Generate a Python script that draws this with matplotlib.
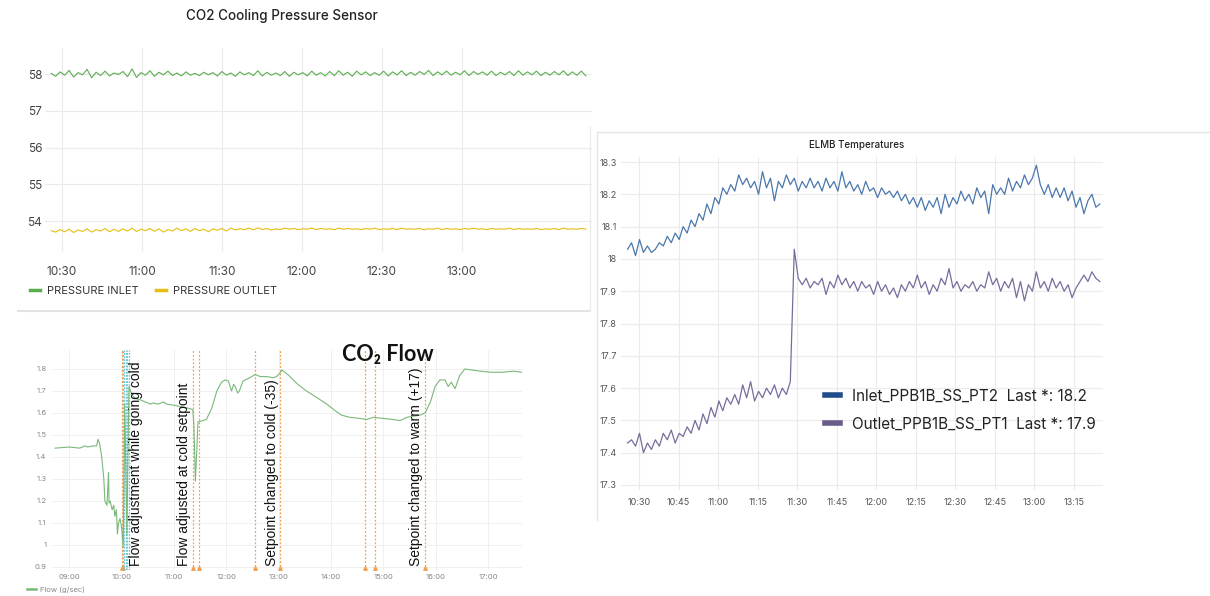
import matplotlib.pyplot as plt
import numpy as np
from matplotlib.lines import Line2D

plt.rcParams['font.family'] = ['Inter', 'DejaVu Sans']

W, H = 1210, 596

# ---- CO2 cooling pressure (minutes after 10:30) ----
pressure_t0, pressure_t1 = -4.1, 196.5
pressure_ticks = ["10:30", "11:00", "11:30", "12:00", "12:30", "13:00"]
pressure_yticks = [54, 55, 56, 57, 58]
inlet_pressure = [
    58.02, 57.94, 58.06, 57.97, 58.10, 57.92, 58.04, 57.98, 58.13, 57.90,
    58.05, 57.96, 58.08, 57.95, 58.03, 57.99, 58.07, 57.93, 58.14, 57.91,
    58.04, 57.97, 58.09, 57.94, 58.05, 57.98, 58.08, 57.96, 58.03, 57.95,
    58.06, 57.97, 58.02, 57.96, 58.05, 57.98, 58.04, 57.95, 58.07, 57.97,
    58.03, 57.94, 58.06, 57.98, 58.04, 57.96, 58.09, 57.95, 58.05, 57.97,
    58.03, 57.96, 58.07, 57.94, 58.05, 57.98, 58.04, 57.95, 58.08, 57.97,
    58.04, 57.95, 58.07, 57.96, 58.09, 57.97, 58.05, 57.94, 58.08, 57.98,
    58.06, 57.96, 58.04, 57.97, 58.08, 57.95, 58.06, 57.98, 58.09, 57.96,
    58.05, 57.97, 58.07, 57.99, 58.10, 57.96, 58.06, 57.98, 58.08, 57.97,
    58.05, 57.98, 58.09, 57.96, 58.07, 57.99, 58.06, 57.97, 58.08, 57.96,
    58.05, 57.98, 58.07, 57.96, 58.09, 57.97, 58.06, 57.98, 58.08, 57.96,
    58.05, 57.97, 58.07, 57.98, 58.09, 57.96, 58.06, 57.97, 58.08, 57.95,
]
outlet_pressure = [
    53.74, 53.70, 53.77, 53.71, 53.78, 53.69, 53.76, 53.72, 53.79, 53.70,
    53.77, 53.73, 53.80, 53.71, 53.78, 53.72, 53.79, 53.73, 53.81, 53.72,
    53.78, 53.74, 53.80, 53.72, 53.79, 53.70, 53.77, 53.73, 53.81, 53.74,
    53.79, 53.72, 53.80, 53.74, 53.78, 53.71, 53.79, 53.75, 53.80, 53.73,
    53.81, 53.76, 53.79, 53.77, 53.81, 53.76, 53.82, 53.77, 53.80, 53.76,
    53.79, 53.77, 53.81, 53.78, 53.80, 53.77, 53.79, 53.78, 53.81, 53.77,
    53.80, 53.78, 53.79, 53.77, 53.81, 53.78, 53.80, 53.78, 53.79, 53.77,
    53.80, 53.78, 53.81, 53.77, 53.79, 53.78, 53.80, 53.77, 53.81, 53.78,
    53.79, 53.78, 53.80, 53.77, 53.79, 53.78, 53.81, 53.77, 53.80, 53.78,
    53.79, 53.77, 53.80, 53.78, 53.81, 53.78, 53.79, 53.77, 53.80, 53.78,
    53.79, 53.78, 53.81, 53.77, 53.80, 53.78, 53.79, 53.78, 53.80, 53.77,
    53.79, 53.78, 53.80, 53.77, 53.81, 53.78, 53.79, 53.78, 53.80, 53.78,
]

# ---- CO2 flow (hours after 09:00) ----
flow_ticks = ["09:00", "10:00", "11:00", "12:00", "13:00", "14:00", "15:00", "16:00", "17:00"]
flow_yticks = [0.9, 1.0, 1.1, 1.2, 1.3, 1.4, 1.5, 1.6, 1.7, 1.8]
flow_hours = [
    -0.27, 0.0, 0.2, 0.3, 0.35, 0.45, 0.52, 0.55, 0.58, 0.62, 0.66, 0.68, 0.72, 0.75,
    0.76, 0.78, 0.82, 0.85, 0.87, 0.90, 0.92, 0.94, 0.97, 1.00, 1.03, 1.06, 1.10, 1.14,
    1.20, 1.27, 1.35, 1.45, 1.55, 1.60, 1.70, 1.80, 1.86, 2.00, 2.10, 2.20, 2.30, 2.36,
    2.38, 2.41, 2.44, 2.46, 2.55, 2.62, 2.72, 2.82, 2.91, 2.98, 3.04, 3.10, 3.14, 3.17,
    3.22, 3.25, 3.32, 3.45, 3.55, 3.65, 3.77, 3.90, 3.96, 4.02, 4.06, 4.12, 4.22, 4.34,
    4.53, 4.73, 4.92, 5.08, 5.20, 5.36, 5.55, 5.68, 5.81, 6.00, 6.19, 6.32, 6.45, 6.57,
    6.70, 6.80, 6.90, 6.99, 7.08, 7.18, 7.24, 7.30, 7.37, 7.46, 7.56, 7.69, 7.85, 8.04,
    8.29, 8.48, 8.64,
]
flow_values = [
    1.44, 1.445, 1.44, 1.45, 1.445, 1.45, 1.45, 1.48, 1.46, 1.40, 1.30, 1.20, 1.18, 1.33,
    1.19, 1.20, 1.16, 1.18, 1.13, 1.16, 1.05, 1.10, 1.12, 1.08, 0.99, 1.64, 1.05, 1.72,
    1.68, 1.665, 1.66, 1.65, 1.64, 1.645, 1.64, 1.65, 1.64, 1.635, 1.63, 1.625, 1.62, 1.615,
    1.55, 1.29, 1.45, 1.56, 1.565, 1.57, 1.62, 1.70, 1.74, 1.75, 1.745, 1.70, 1.73, 1.72,
    1.69, 1.70, 1.745, 1.76, 1.775, 1.765, 1.765, 1.76, 1.765, 1.78, 1.795, 1.785, 1.765, 1.735,
    1.70, 1.67, 1.64, 1.61, 1.59, 1.58, 1.575, 1.57, 1.58, 1.575, 1.57, 1.565, 1.58, 1.585,
    1.59, 1.60, 1.65, 1.72, 1.75, 1.75, 1.72, 1.74, 1.71, 1.77, 1.80, 1.795, 1.79, 1.785,
    1.785, 1.79, 1.785,
]
event_hours = [1.00, 1.02, 2.36, 2.48, 3.55, 4.03, 5.65, 5.84, 6.80]
region_hours = [1.05, 1.08, 1.11, 1.14]
note_hours = [1.27, 2.19, 3.87, 6.62]
note_texts = [
    "Flow adjustment while going cold",
    "Flow adjusted at cold setpoint",
    "Setpoint changed to cold (-35)",
    "Setpoint changed to warm (+17)",
]

# ---- ELMB temperatures (minutes after 10:30) ----
temp_t0, temp_t1 = -4.4, 174.8
temp_ticks = ["10:30", "10:45", "11:00", "11:15", "11:30", "11:45", "12:00",
              "12:15", "12:30", "12:45", "13:00", "13:15"]
temp_yticks = [17.3, 17.4, 17.5, 17.6, 17.7, 17.8, 17.9, 18.0, 18.1, 18.2, 18.3]
temp_ylabels = ["17.3", "17.4", "17.5", "17.6", "17.7", "17.8", "17.9", "18", "18.1", "18.2", "18.3"]
inlet_temp = [
    18.03, 18.05, 18.01, 18.06, 18.02, 18.04, 18.02, 18.03, 18.05, 18.04,
    18.07, 18.05, 18.08, 18.06, 18.10, 18.08, 18.12, 18.10, 18.14, 18.12,
    18.17, 18.14, 18.19, 18.17, 18.22, 18.20, 18.23, 18.21, 18.26, 18.23,
    18.25, 18.22, 18.24, 18.20, 18.27, 18.22, 18.25, 18.18, 18.24, 18.22,
    18.26, 18.23, 18.25, 18.21, 18.24, 18.22, 18.25, 18.22, 18.24, 18.21,
    18.25, 18.22, 18.24, 18.21, 18.27, 18.22, 18.24, 18.21, 18.23, 18.20,
    18.24, 18.21, 18.22, 18.19, 18.22, 18.20, 18.21, 18.19, 18.21, 18.18,
    18.20, 18.17, 18.19, 18.16, 18.19, 18.15, 18.18, 18.16, 18.19, 18.14,
    18.20, 18.16, 18.19, 18.17, 18.21, 18.18, 18.20, 18.17, 18.22, 18.19,
    18.21, 18.14, 18.23, 18.20, 18.22, 18.20, 18.25, 18.21, 18.24, 18.22,
    18.26, 18.23, 18.25, 18.29, 18.23, 18.20, 18.23, 18.19, 18.22, 18.19,
    18.22, 18.18, 18.21, 18.16, 18.19, 18.14, 18.18, 18.20, 18.16, 18.17,
]
outlet_temp = [
    17.43, 17.44, 17.42, 17.46, 17.40, 17.43, 17.41, 17.44, 17.42, 17.46,
    17.44, 17.47, 17.43, 17.46, 17.45, 17.48, 17.46, 17.50, 17.47, 17.52,
    17.49, 17.54, 17.51, 17.56, 17.53, 17.57, 17.55, 17.58, 17.55, 17.61,
    17.57, 17.62, 17.56, 17.59, 17.57, 17.60, 17.58, 17.61, 17.57, 17.60,
    17.58, 17.62, 18.03, 17.94, 17.92, 17.94, 17.91, 17.93, 17.92, 17.94,
    17.89, 17.93, 17.91, 17.95, 17.92, 17.94, 17.91, 17.93, 17.90, 17.93,
    17.91, 17.92, 17.89, 17.93, 17.90, 17.92, 17.89, 17.91, 17.88, 17.92,
    17.90, 17.93, 17.91, 17.95, 17.91, 17.93, 17.89, 17.92, 17.90, 17.94,
    17.92, 17.97, 17.91, 17.93, 17.90, 17.92, 17.91, 17.93, 17.90, 17.92,
    17.91, 17.96, 17.92, 17.94, 17.90, 17.93, 17.91, 17.94, 17.88, 17.93,
    17.87, 17.92, 17.90, 17.96, 17.91, 17.93, 17.90, 17.94, 17.91, 17.93,
    17.90, 17.92, 17.88, 17.91, 17.93, 17.95, 17.93, 17.96, 17.94, 17.93,
]


def minutes(label, ref):
    h, m = label.split(':')
    return int(h) * 60 + int(m) - ref


def plain_axes(ax, tick_color, size):
    for s in ax.spines.values():
        s.set_visible(False)
    ax.tick_params(length=0, colors=tick_color, labelsize=size)
    ax.grid(color='#ebebeb', lw=0.8)
    ax.set_axisbelow(True)


fig = plt.figure(figsize=(W / 100, H / 100), dpi=100, facecolor='white')

# ================= panel 1: pressure =================
ax1 = fig.add_axes([45 / W, 1 - 252 / H, 547 / W, 204 / H])
plain_axes(ax1, '#444444', 8.5)
t_p = np.linspace(pressure_t0, pressure_t1, len(inlet_pressure))
ax1.plot(t_p, inlet_pressure, color='#5aae4e', lw=0.8, label='PRESSURE INLET')
ax1.plot(t_p, outlet_pressure, color='#e8bd12', lw=0.8, label='PRESSURE OUTLET')
ax1.set_xlim(-6.4, 198.8)
ax1.set_ylim(53.16, 58.71)
ax1.set_yticks(pressure_yticks)
ax1.set_xticks([minutes(s, 630) for s in pressure_ticks])
ax1.set_xticklabels(pressure_ticks)
ax1.tick_params(axis='x', pad=10)
ax1.tick_params(axis='y', pad=2)
leg1 = ax1.legend(loc='center left', bbox_to_anchor=(-0.035, -0.19), ncol=2, frameon=False,
                  fontsize=8, handlelength=0.9, handletextpad=0.6, columnspacing=1.6,
                  borderaxespad=0)
for h in leg1.get_lines():
    h.set_linewidth(2.5)
for t in leg1.get_texts():
    t.set_color('#333333')
fig.text(282 / W, 1 - 16 / H, "CO2 Cooling Pressure Sensor", ha='center', va='center',
         fontsize=9.7, color='#222222', fontweight='medium')
fig.add_artist(Line2D([18 / W, 590 / W], [1 - 311 / H, 1 - 311 / H], color='#e2e2e2', lw=1.5))
fig.add_artist(Line2D([590 / W, 590 / W], [1 - 127 / H, 1 - 311 / H], color='#ececec', lw=1))

# ================= panel 2: flow =================
ax2 = fig.add_axes([52 / W, 1 - 570 / H, 470 / W, 220 / H])
plain_axes(ax2, '#888888', 5.5)
ax2.grid(color='#f0f0f0', lw=0.7)
for x in event_hours:
    ax2.axvline(x, color='#f0a050', lw=0.9, ls=(0, (1.5, 1.5)))
    ax2.plot(x, 0.893, marker='^', ms=2.5, color='#f0a050', clip_on=False)
for x in region_hours:
    ax2.axvline(x, color='#70c8d8', lw=0.9, ls=(0, (1.5, 1)))
ax2.plot(flow_hours, flow_values, color='#7ab87a', lw=0.8, label='Flow (g/sec)')
ax2.set_xlim(-0.33, 8.65)
ax2.set_ylim(0.886, 1.886)
ax2.set_yticks(flow_yticks)
ax2.set_yticklabels([f"{v:g}" for v in flow_yticks])
ax2.set_xticks([minutes(s, 540) / 60 for s in flow_ticks])
ax2.set_xticklabels(flow_ticks)
ax2.tick_params(axis='x', pad=3)
ax2.tick_params(axis='y', pad=4)
for x, txt in zip(note_hours, note_texts):
    ax2.text(x, 0.905, txt, rotation=90, ha='center', va='bottom', fontsize=10,
             family=['Liberation Sans', 'DejaVu Sans'], color='#111111')
leg2 = ax2.legend(loc='center left', bbox_to_anchor=(-0.06, -0.09), frameon=False,
                  fontsize=5.5, handlelength=1.2, handletextpad=0.5, borderaxespad=0)
for h in leg2.get_lines():
    h.set_linewidth(1.8)
for t in leg2.get_texts():
    t.set_color('#888888')
fig.text(388 / W, 1 - 355 / H, "CO\u2082 Flow", ha='center', va='center', fontsize=15.5,
         fontweight='bold', family=['Lato', 'DejaVu Sans'], color='#111111')

# ================= panel 3: temperatures =================
fig.add_artist(Line2D([597 / W, 1.0], [1 - 132 / H, 1 - 132 / H], color='#e6e6e6', lw=1))
fig.add_artist(Line2D([597 / W, 597 / W], [1 - 132 / H, 1 - 520 / H], color='#e6e6e6', lw=1))
ax3 = fig.add_axes([621 / W, 1 - 490 / H, 482 / W, 333 / H])
plain_axes(ax3, '#555555', 6.5)
t_t = np.linspace(temp_t0, temp_t1, len(inlet_temp))
ax3.plot(t_t, inlet_temp, color='#4a78ad', lw=0.9)
ax3.plot(t_t, outlet_temp, color='#7a6b9c', lw=0.9)
ax3.set_xlim(-6.9, 176)
ax3.set_ylim(17.2845, 18.3155)
ax3.set_yticks(temp_yticks)
ax3.set_yticklabels(temp_ylabels)
ax3.set_xticks([minutes(s, 630) for s in temp_ticks])
ax3.set_xticklabels(temp_ticks)
ax3.tick_params(axis='x', pad=6)
ax3.tick_params(axis='y', pad=3)
handles = [Line2D([], [], color='#1f4e8a', lw=4), Line2D([], [], color='#6a5c8a', lw=4)]
labels = [f"Inlet_PPB1B_SS_PT2  Last *: {inlet_temp[-1]:.1f}",
          f"Outlet_PPB1B_SS_PT1  Last *: {outlet_temp[-1]:.1f}"]
leg3 = ax3.legend(handles, labels, loc='center left', bbox_to_anchor=(0.41, 0.24),
                  frameon=False, fontsize=11, handlelength=1.0, handletextpad=0.8,
                  labelspacing=0.85, borderaxespad=0)
for t in leg3.get_texts():
    t.set_color('#222222')
fig.text(857 / W, 1 - 145 / H, "ELMB Temperatures", ha='center', va='center',
         fontsize=7, color='#222222', fontweight='medium')

fig.savefig("out.png", dpi=100)
